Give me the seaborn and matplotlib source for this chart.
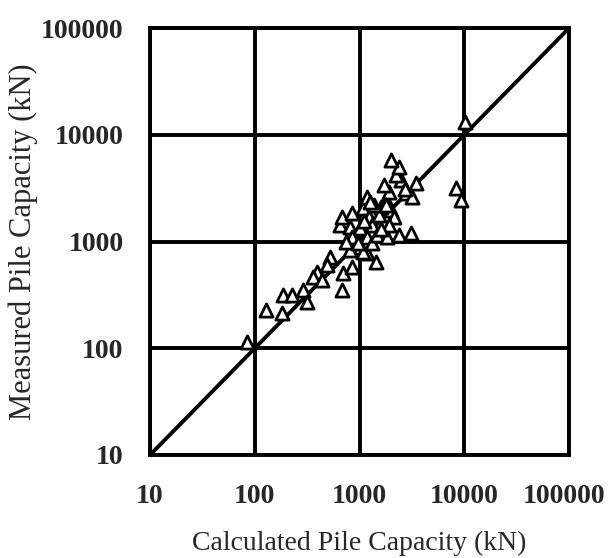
import numpy as np
import pandas as pd
import matplotlib
matplotlib.use("Agg")
import matplotlib.pyplot as plt
import matplotlib.transforms as mtransforms
import seaborn as sns

# Calculated vs measured pile capacity (kN)
calculated = [84, 127, 181, 185, 225, 286, 313, 389, 357, 435, 518, 485,
              674, 689, 857, 1044, 1191, 1452, 1000, 804, 1069, 645, 674,
              804, 857, 1000, 1069, 1167, 1245, 1330, 857, 1167, 1330, 1483,
              1848, 2018, 1621, 1808, 1931, 2154, 1931, 2404, 3127, 2803,
              3200, 3491, 2512, 2250, 2404, 2018, 1808, 1549, 1390, 1730,
              957, 10200, 8300, 9400, 1100, 1600, 2700, 740, 1250]
measured = [115, 228, 214, 315, 315, 352, 271, 518, 465, 435, 716, 603,
            352, 507, 577, 869, 780, 643, 888, 832, 798, 1429, 1698,
            1368, 1849, 1340, 2061, 2612, 1698, 1429, 1102, 1102, 968, 1151,
            1102, 1973, 2105, 2448, 2912, 1698, 1429, 1151, 1202, 2847,
            2612, 3532, 3767, 4200, 4990, 5800, 2200, 1770, 2200, 3380,
            968, 13200, 3170, 2460, 1550, 1300, 3100, 1000, 2350]

ticks = [10, 100, 1000, 10000, 100000]
tick_labels = ["10", "100", "1000", "10000", "100000"]

df = pd.DataFrame({"calc": calculated, "meas": measured})

sns.set_style("white")
plt.rcParams["font.family"] = ["Liberation Serif", "DejaVu Serif"]

fig = plt.figure(figsize=(6.11, 5.58), dpi=100)
ax = fig.add_axes([0.2455, 0.1846, 0.6858, 0.765])

ax.set_xscale("log")
ax.set_yscale("log")
ax.set_xlim(10, 100000)
ax.set_ylim(10, 100000)

# 1:1 line
ax.plot([10, 100000], [10, 100000], color="black", lw=2.8, zorder=2)

sns.scatterplot(data=df, x="calc", y="meas", marker="^", s=90,
                facecolor="white", edgecolor="black", linewidth=2.0,
                ax=ax, zorder=3, legend=False)

ax.set_xticks(ticks)
ax.set_xticklabels(tick_labels)
ax.set_yticks(ticks)
ax.set_yticklabels(tick_labels)
ax.minorticks_off()
ax.tick_params(length=0, labelsize=20)
ax.tick_params(axis="y", pad=19)
ax.tick_params(axis="x", pad=21)
for lab in ax.get_xticklabels() + ax.get_yticklabels():
    lab.set_fontweight("bold")
# last x label sits a bit to the left so it stays on the page
last = ax.get_xticklabels()[-1]
last.set_transform(last.get_transform() +
                   mtransforms.ScaledTranslation(-0.05, 0, fig.dpi_scale_trans))

ax.grid(True, color="black", lw=2.8)
for s in ax.spines.values():
    s.set_color("black")
    s.set_linewidth(2.8)

ax.set_xlabel("Calculated Pile Capacity (kN)", fontsize=20)
ax.xaxis.set_label_coords(0.5, -0.177)
ax.set_ylabel("Measured Pile Capacity (kN)", fontsize=22, labelpad=2)

fig.savefig("out.png", dpi=100)
